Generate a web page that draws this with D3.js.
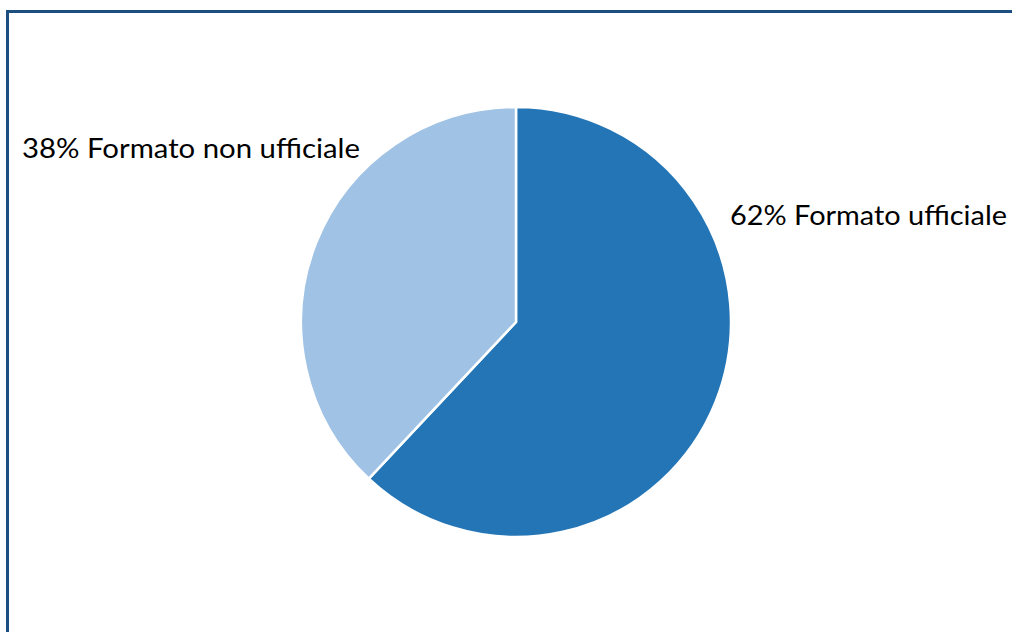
<!DOCTYPE html>
<meta charset="utf-8">
<html>
<head>
    <script src="https://d3js.org/d3.v7.min.js"></script>
    <style>
      body { margin: 0; background: #fff; }
      .lbl { font-family: Lato, "Open Sans", sans-serif; font-size: 27px; fill: #000; }
    </style>
</head>
<body>
<div id="chart"></div>
<script>
    // data
    const categories = ["Formato ufficiale", "Formato non ufficiale"];
    const values = [62, 38];
    const colors = ["#2475b6", "#9fc2e5"];

    const W = 1012, H = 632;
    const cx = 516, cy = 322, r = 215;

    const svg = d3.select("#chart")
      .append("svg")
        .attr("width", W)
        .attr("height", H);

    // frame (runs off the right and bottom edge)
    svg.append("rect")
      .attr("x", 7.5).attr("y", 11.5)
      .attr("width", W + 20).attr("height", H + 20)
      .attr("fill", "none")
      .attr("stroke", "#1c4f80")
      .attr("stroke-width", 3);

    const pie = d3.pie().sort(null).value(d => d);
    const arc = d3.arc().innerRadius(0).outerRadius(r);

    const g = svg.append("g")
      .attr("transform", `translate(${cx},${cy})`);

    g.selectAll("path")
      .data(pie(values))
      .join("path")
        .attr("d", arc)
        .attr("fill", (d, i) => colors[i])
        .attr("stroke", "#fff")
        .attr("stroke-width", 2.5);

    // labels
    const labelPos = [[730, 225, 277], [22, 158, 338]];
    svg.selectAll("text.lbl")
      .data(values)
      .join("text")
        .attr("class", "lbl")
        .attr("x", (d, i) => labelPos[i][0])
        .attr("y", (d, i) => labelPos[i][1])
        .attr("textLength", (d, i) => labelPos[i][2])
        .attr("lengthAdjust", "spacingAndGlyphs")
        .text((d, i) => d + "% " + categories[i]);
</script>
</body>
</html>
